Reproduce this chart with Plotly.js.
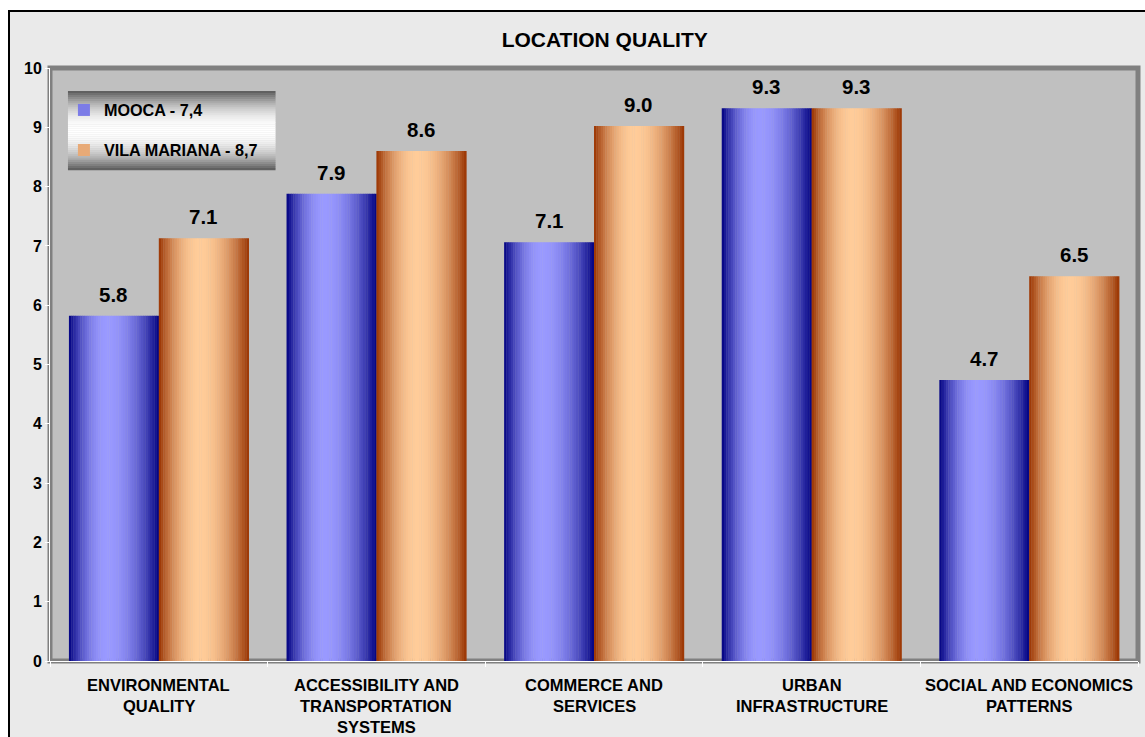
<!DOCTYPE html>
<html>
<head>
<meta charset="utf-8">
<script src="https://cdn.plot.ly/plotly-3.0.1.min.js"></script>
<style>
  html, body { margin: 0; padding: 0; background: #ffffff; overflow: hidden; }
  #frame { position: absolute; left: 8px; top: 10px; width: 1137px; height: 727px;
           border-left: 2px solid #000; border-top: 2px solid #000; background: #eaeaea; }
  #chart { width: 1135px; height: 725px; }
</style>
</head>
<body>
<div id="frame"><div id="chart"></div></div>
<script>
// ---- data ----
const chartTitle = "LOCATION QUALITY";
const categories = [
  "ENVIRONMENTAL<br>QUALITY",
  "ACCESSIBILITY AND<br>TRANSPORTATION<br>SYSTEMS",
  "COMMERCE AND<br>SERVICES",
  "URBAN<br>INFRASTRUCTURE",
  "SOCIAL AND ECONOMICS<br>PATTERNS"
];
const seriesNames = ["MOOCA - 7,4", "VILA MARIANA - 8,7"];
const moocaValues = [5.82, 7.88, 7.06, 9.32, 4.74];
const vilaMarianaValues = [7.13, 8.60, 9.02, 9.32, 6.49];
const yTickValues = [0, 1, 2, 3, 4, 5, 6, 7, 8, 9, 10];

// ---- styling ----
const FONT = "Liberation Sans, Arial, sans-serif";
const BW = 0.413;      // width of one bar, in category units
const K = 40;          // gradient slices per bar
const palettes = [
  { dark: [0, 0, 128], light: [153, 153, 255], peak: 0.42 },
  { dark: [153, 51, 0], light: [255, 204, 153], peak: 0.45 }
];
function shade(pal, u) {
  let f = u < pal.peak ? u / pal.peak : (1 - u) / (1 - pal.peak);
  f = 1 - Math.pow(1 - f, 2);
  const c = pal.dark.map((d, i) => Math.round(d + (pal.light[i] - d) * f));
  return "rgb(" + c.join(",") + ")";
}

const allSeries = [moocaValues, vilaMarianaValues];
const traces = [];
allSeries.forEach((vals, s) => {
  const w = BW / K;
  const legendSlice = Math.round(K * 0.22);
  for (let i = 0; i < K; i++) {
    const u = (i + 0.5) / K;
    traces.push({
      type: "bar",
      x: categories,
      y: vals,
      offset: (s === 0 ? -BW : 0) + i * w,
      width: w * 1.15,
      marker: { color: shade(palettes[s], u), line: { width: 0 } },
      name: "<b>" + seriesNames[s] + "</b>",
      legendgroup: "g" + s,
      showlegend: i === legendSlice,
      hoverinfo: "skip"
    });
  }
});

// value labels above bars
const annotations = [];
allSeries.forEach((vals, s) => {
  vals.forEach((v, i) => {
    annotations.push({
      x: i + (s === 0 ? -BW / 2 : BW / 2), y: v, xref: "x", yref: "y",
      text: "<b>" + v.toFixed(1) + "</b>", showarrow: false, yanchor: "bottom", yshift: 8,
      font: { family: FONT, size: 20.5, color: "#000" }
    });
  });
});
// category labels (one annotation per line for Excel-like line spacing)
categories.forEach((c, i) => {
  c.split("<br>").forEach((line, j) => {
    annotations.push({
      x: i, y: 0, xref: "x", yref: "paper", text: "<b>" + line + "</b>",
      showarrow: false, yanchor: "middle", yshift: -(24 + 21 * j),
      font: { family: FONT, size: 16.5, color: "#000" }
    });
  });
});

// legend metallic background (horizontal stripes)
const shapes = [];
const lx0 = 0.0165, lx1 = 0.2073, ly0 = 0.828, ly1 = 0.9612, NS = 40;
for (let i = 0; i < NS; i++) {
  const u = (i + 0.5) / NS;
  let f = u < 0.5 ? u / 0.5 : (1 - u) / 0.5;
  f = 1 - Math.pow(1 - f, 2);
  const g = Math.round(88 + (255 - 88) * f);
  shapes.push({
    type: "rect", xref: "paper", yref: "paper", layer: "above",
    x0: lx0, x1: lx1,
    y0: ly1 - (i + 1) * (ly1 - ly0) / NS - 0.0005, y1: ly1 - i * (ly1 - ly0) / NS,
    fillcolor: "rgb(" + g + "," + g + "," + g + ")", line: { width: 0 }
  });
}
// 3D-style wall frame
shapes.push({
  type: "rect", xref: "paper", yref: "paper", layer: "below",
  x0: 0, x1: 1, y0: 0, y1: 1, line: { color: "#808080", width: 5 }
});

const layout = {
  width: 1135, height: 725,
  margin: { l: 40, r: 7, t: 56, b: 76 },
  paper_bgcolor: "#eaeaea",
  plot_bgcolor: "#c0c0c0",
  barmode: "overlay",
  title: {
    text: "<b>" + chartTitle + "</b>", xref: "container", yref: "container",
    x: 0.524, y: 0.9614, xanchor: "center", yanchor: "middle",
    font: { family: FONT, size: 21, color: "#000" }
  },
  xaxis: {
    type: "category", showticklabels: false, showgrid: false, zeroline: false,
    showline: true, linecolor: "#ffffff", linewidth: 1,
    ticks: "outside", tickson: "boundaries", tickcolor: "#ffffff", ticklen: 5,
    range: [-0.5, 4.5], fixedrange: true
  },
  yaxis: {
    range: [0, 10], tickvals: yTickValues, showgrid: false, zeroline: false,
    showline: true, linecolor: "#ffffff", linewidth: 1,
    ticks: "outside", tickcolor: "#ffffff", ticklen: 4,
    tickfont: { family: FONT, size: 16, color: "#000", weight: "bold" },
    fixedrange: true
  },
  legend: {
    x: 0.0128, y: 0.958, xanchor: "left", yanchor: "top",
    bgcolor: "rgba(0,0,0,0)", borderwidth: 0,
    font: { family: FONT, size: 16.2, color: "#000" },
    tracegroupgap: 16, traceorder: "grouped"
  },
  annotations: annotations,
  shapes: shapes,
  showlegend: true
};

Plotly.newPlot("chart", traces, layout, { displayModeBar: false, staticPlot: true });
</script>
</body>
</html>
